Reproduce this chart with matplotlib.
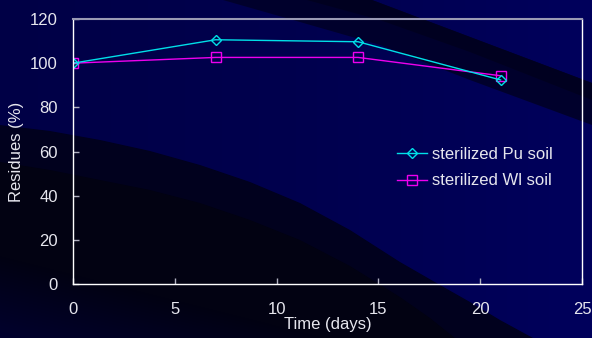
import numpy as np
import matplotlib
matplotlib.use("Agg")
import matplotlib.pyplot as plt
from matplotlib.colors import LinearSegmentedColormap

plt.rcParams['font.family'] = ['Liberation Sans', 'DejaVu Sans']

# residues over time for the two sterilized soils
days = [0, 7, 14, 21]
pu_soil = [100.0, 110.6, 109.7, 92.4]
wl_soil = [100.0, 102.6, 102.6, 94.3]
series_labels = ['sterilized Pu soil', 'sterilized Wl soil']

text_color = '#e6e6ee'

fig = plt.figure(figsize=(5.92, 3.38), dpi=100)

# slide style background: navy with dark curved bands
bg = fig.add_axes([0, 0, 1, 1])
bg.set_xlim(0, 592)
bg.set_ylim(338, 0)
bg.axis('off')
navy = LinearSegmentedColormap.from_list('navy', ['#000046', '#00004e', '#00005c'])
bg.imshow(np.linspace(0, 1, 256)[None, :], extent=(0, 592, 338, 0),
          cmap=navy, aspect='auto', zorder=0)

top_outer = [(223, 0), (300, 22), (380, 45), (470, 80), (592, 125), (592, 83), (372, 0)]
top_inner = [(307, 0), (380, 20), (470, 52), (592, 100), (592, 83), (372, 0)]
low_outer = [(0, 125), (50, 131), (100, 140), (150, 151), (200, 165), (250, 182),
             (300, 203), (350, 230), (400, 262), (440, 285), (470, 302), (500, 320),
             (533, 338), (0, 338)]
low_inner = [(0, 162), (50, 170), (100, 180), (150, 190), (200, 203), (250, 220),
             (300, 240), (350, 266), (400, 297), (430, 318), (455, 338), (0, 338)]
bg.add_patch(plt.Polygon(top_outer, closed=True, color='#00002c', lw=0, zorder=1))
bg.add_patch(plt.Polygon(top_inner, closed=True, color='#000020', lw=0, zorder=1))
bg.add_patch(plt.Polygon(low_outer, closed=True, color='#01011e', lw=0, zorder=1))
bg.add_patch(plt.Polygon(low_inner, closed=True, color='#020212', lw=0, zorder=1))

# soft lift towards the bottom left corner
yy, xx = np.mgrid[0:338, 0:592]
lift = np.clip((yy - 255) / 83.0 - xx / 330.0, 0, 1)
glow = np.zeros((338, 592, 4))
glow[..., 2] = 70 / 255
glow[..., 3] = lift * 0.55
bg.imshow(glow, extent=(0, 592, 338, 0), aspect='auto', zorder=2)

ax = fig.add_axes([73 / 592, 1 - 284 / 338, 509 / 592, 265 / 338])
ax.set_facecolor('none')

ax.plot(days, wl_soil, color='#ee00ee', lw=1.0, marker='s', ms=6.5,
        mfc='none', mec='#ee00ee', mew=1.0, label=series_labels[1])
ax.plot(days, pu_soil, color='#00e0e8', lw=1.0, marker='D', ms=5,
        mfc='none', mec='#00e0e8', mew=1.0, label=series_labels[0])

ax.set_xlim(0, 25)
ax.set_ylim(0, 120)
ax.set_xticks(range(0, 26, 5))
ax.set_yticks(range(0, 121, 20))

for side in ['left', 'bottom', 'right']:
    ax.spines[side].set_color('white')
    ax.spines[side].set_linewidth(1.0)
ax.spines['top'].set_color('#9a9ab4')
ax.spines['top'].set_linewidth(1.5)

ax.tick_params(axis='both', direction='in', length=4, width=1.0,
               color='#b0b0c0', labelcolor=text_color, labelsize=12)
ax.tick_params(axis='x', pad=13)
ax.tick_params(axis='y', pad=11)

ax.set_xlabel('Time (days)', color=text_color, fontsize=12, labelpad=0)
ax.set_ylabel('Residues (%)', color=text_color, fontsize=12, labelpad=4)

handles, labels = ax.get_legend_handles_labels()
leg = ax.legend(handles[::-1], labels[::-1], loc='upper left',
                bbox_to_anchor=((398 - 73) / 509 - 0.024, 1 - (135 - 19) / 265),
                frameon=False, fontsize=12, numpoints=1, handlelength=1.75,
                handletextpad=0.3, labelspacing=0.7, borderpad=0.2)
for t in leg.get_texts():
    t.set_color(text_color)

fig.savefig('out.png', dpi=100)
